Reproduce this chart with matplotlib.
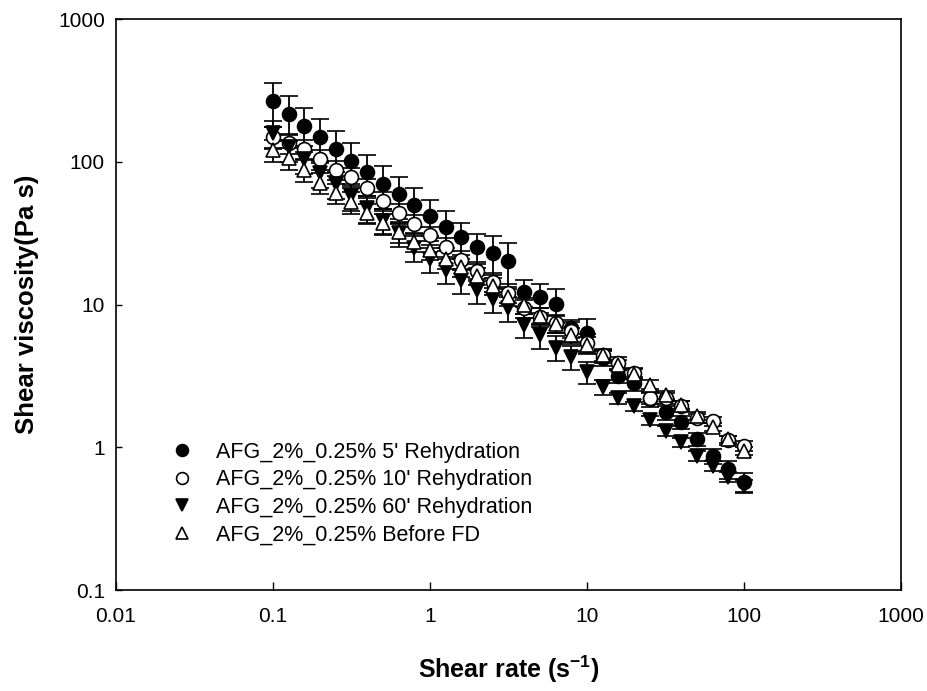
import matplotlib
matplotlib.use("Agg")
import matplotlib.pyplot as plt
from matplotlib.ticker import FixedLocator, FixedFormatter, NullLocator

# shear rate (1/s), 10 points per decade
shear_rate = [0.1, 0.126, 0.158, 0.2, 0.251, 0.316, 0.398, 0.501, 0.631, 0.794,
              1.0, 1.26, 1.58, 2.0, 2.51, 3.16, 3.98, 5.01, 6.31, 7.94,
              10.0, 12.6, 15.8, 20.0, 25.1, 31.6, 39.8, 50.1, 63.1, 79.4, 100.0]

visc_5 = [265, 215, 178, 148, 122, 102, 85, 70, 59, 50,
          42, 35, 29.7, 25.3, 23, 20.2, 12.2, 11.3, 10.1, 6.8,
          6.3, 4.2, 3.16, 2.8, 2.18, 1.76, 1.5, 1.14, 0.87, 0.7, 0.57]
err_5 = [90, 75, 60, 50, 42, 34, 27, 23, 19, 15,
         12, 10, 7.5, 6, 7, 7, 2.6, 2.6, 2.7, 1.0,
         1.6, 0.5, 0.35, 0.3, 0.25, 0.2, 0.15, 0.12, 0.1, 0.1, 0.09]

visc_10 = [150, 135, 123, 104, 87.5, 78, 65.5, 53, 43.8, 36.6,
           30.5, 25.3, 20.5, 17.2, 14.4, 12.1, 9.4, 8.2, 7.4, 6.5,
           5.4, 4.4, 3.9, 3.3, 2.2, 2.2, 1.95, 1.6, 1.52, 1.12, 1.03]
err_10 = [25, 22, 19, 16, 13, 12, 10, 8, 7, 5.5,
          4.5, 3.8, 3.1, 2.6, 2.2, 1.8, 1.4, 1.2, 1.1, 1.0,
          0.8, 0.5, 0.4, 0.3, 0.2, 0.2, 0.15, 0.12, 0.1, 0.08, 0.08]

visc_60 = [158, 127, 105, 83, 70, 57.5, 47.5, 38.5, 31.6, 25,
           20.8, 17.5, 14.8, 12.6, 10.9, 9.4, 7.2, 6.1, 5.0, 4.3,
           3.37, 2.64, 2.21, 1.94, 1.55, 1.3, 1.09, 0.87, 0.74, 0.62, 0.54]
err_60 = [35, 28, 23, 18, 15, 12, 10, 8, 6.5, 5,
          4.2, 3.5, 3, 2.5, 2.2, 1.9, 1.4, 1.2, 1.0, 0.8,
          0.6, 0.3, 0.2, 0.15, 0.12, 0.1, 0.08, 0.07, 0.06, 0.05, 0.05]

visc_before = [121, 106, 87.5, 71, 60.4, 52, 43.8, 37.2, 32.2, 27.4,
               24.1, 20.8, 18.3, 15.8, 13.5, 11.3, 9.9, 8.3, 7.3, 6.1,
               5.2, 4.43, 3.77, 3.26, 2.75, 2.32, 1.98, 1.66, 1.39, 1.14, 0.95]
err_before = [22, 19, 15, 12, 10, 9, 7, 6, 5, 4.2,
              3.6, 3, 2.6, 2.2, 1.9, 1.6, 1.3, 1.1, 1.0, 0.8,
              0.7, 0.4, 0.3, 0.25, 0.2, 0.15, 0.12, 0.1, 0.08, 0.07, 0.06]

labels = ["AFG_2%_0.25% 5' Rehydration",
          "AFG_2%_0.25% 10' Rehydration",
          "AFG_2%_0.25% 60' Rehydration",
          "AFG_2%_0.25% Before FD"]

x_ticks = [0.01, 0.1, 1, 10, 100, 1000]
x_tick_labels = ["0.01", "0.1", "1", "10", "100", "1000"]
y_ticks = [0.1, 1, 10, 100, 1000]
y_tick_labels = ["0.1", "1", "10", "100", "1000"]

plt.rcParams["font.family"] = ["Liberation Sans", "DejaVu Sans"]
plt.rcParams["mathtext.fontset"] = "custom"
plt.rcParams["mathtext.rm"] = "Liberation Sans"
plt.rcParams["mathtext.bf"] = "Liberation Sans:bold"

fig = plt.figure(figsize=(9.28, 6.91), dpi=100)
ax = fig.add_axes([0.125, 0.146, 0.846, 0.8265])

series = [
    (visc_5, err_5, "o", "black"),
    (visc_10, err_10, "o", "white"),
    (visc_60, err_60, "v", "black"),
    (visc_before, err_before, "^", "white"),
]
for (vals, errs, mk, fc), lab in zip(series, labels):
    ax.errorbar(shear_rate, vals, yerr=errs, fmt=mk, ms=10, mfc=fc, mec="black",
                mew=1.2, ecolor="black", elinewidth=1.3, capsize=6.5, capthick=1.3,
                label=lab)

ax.set_xscale("log")
ax.set_yscale("log")
ax.set_xlim(0.01, 1000)
ax.set_ylim(0.1, 1000)

ax.xaxis.set_major_locator(FixedLocator(x_ticks))
ax.xaxis.set_major_formatter(FixedFormatter(x_tick_labels))
ax.xaxis.set_minor_locator(NullLocator())
ax.yaxis.set_major_locator(FixedLocator(y_ticks))
ax.yaxis.set_major_formatter(FixedFormatter(y_tick_labels))
ax.yaxis.set_minor_locator(NullLocator())
ax.tick_params(axis="both", direction="in", length=6, width=1, labelsize=15)
ax.tick_params(axis="x", pad=12)
ax.tick_params(axis="y", length=4, pad=8)
for sp in ax.spines.values():
    sp.set_linewidth(1.2)

ax.set_xlabel(r"Shear rate (s$^{\mathbf{-1}}$)", fontsize=18, fontweight="bold",
              labelpad=20)
ax.set_ylabel("Shear viscosity(Pa s)", fontsize=18.5, fontweight="bold", labelpad=14)

handles, labs = ax.get_legend_handles_labels()
handles = [h[0] for h in handles]
ax.legend(handles, labs, loc="upper left", bbox_to_anchor=(160 / 928, 1 - 433 / 691),
          bbox_transform=fig.transFigure, borderaxespad=0,
          frameon=False, fontsize=15.5, handletextpad=1.0, labelspacing=0.31,
          handlelength=1.2, markerscale=0.85)

fig.savefig("out.png", dpi=100)
